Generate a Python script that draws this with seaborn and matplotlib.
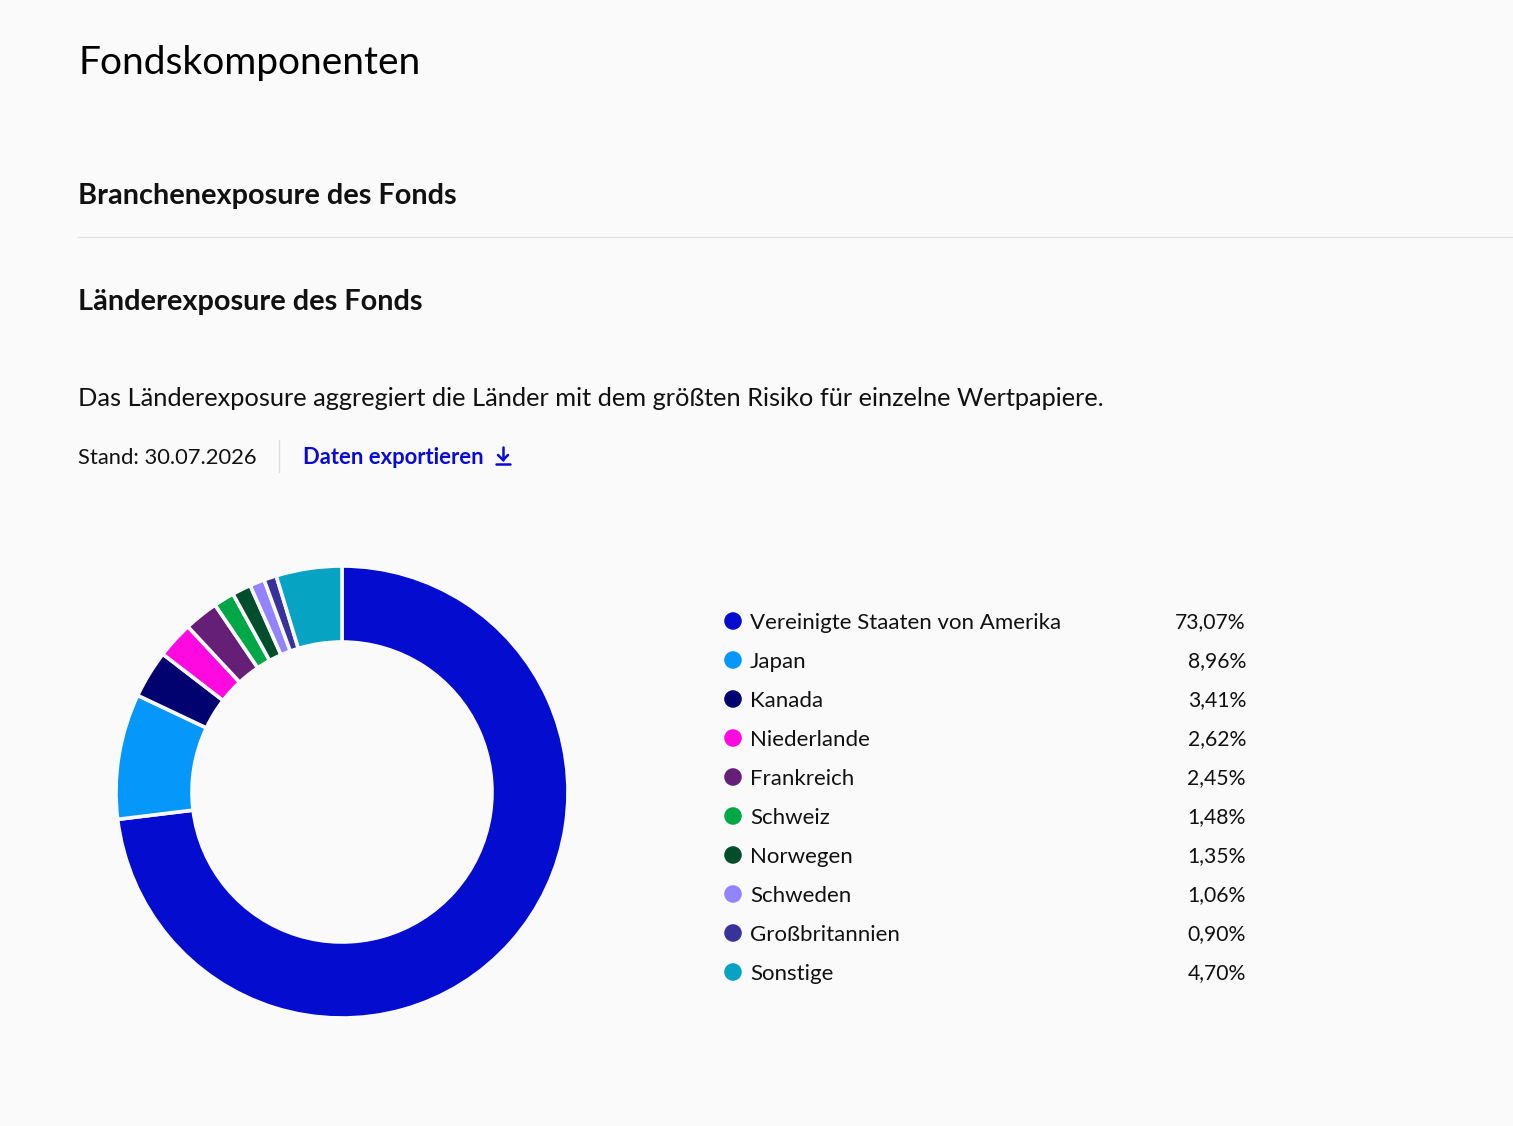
import matplotlib
matplotlib.use("Agg")

import matplotlib.pyplot as plt
import seaborn as sns
import pandas as pd


COUNTRIES = [
    "Vereinigte Staaten von Amerika",
    "Japan",
    "Kanada",
    "Niederlande",
    "Frankreich",
    "Schweiz",
    "Norwegen",
    "Schweden",
    "Großbritannien",
    "Sonstige",
]
SHARES = [73.07, 8.96, 3.41, 2.62, 2.45, 1.48, 1.35, 1.06, 0.90, 4.70]
COLORS = [
    "#040dcf",
    "#0598fa",
    "#010170",
    "#fe0ae1",
    "#661f77",
    "#00a746",
    "#014d2c",
    "#9383fc",
    "#38329a",
    "#07a3c2",
]

TITLE = "Fondskomponenten"
SECTION_1 = "Branchenexposure des Fonds"
SECTION_2 = "Länderexposure des Fonds"
DESCRIPTION = "Das Länderexposure aggregiert die Länder mit dem größten Risiko für einzelne Wertpapiere."
STAND = "Stand: 30.07.2026"
EXPORT = "Daten exportieren"

BG = "#fafafa"
LINK = "#0a0ad2"
W, H = 1513, 1126


def px(x, y):
    # pixel coords (top-left origin) -> figure fraction
    return x / W, 1 - y / H


def line(fig, xs, ys, color, lw):
    fig.add_artist(plt.Line2D([x / W for x in xs], [1 - y / H for y in ys],
                              color=color, lw=lw, solid_capstyle="round"))


def main():
    sns.set_theme(style="white")
    plt.rcParams["font.family"] = ["Lato", "DejaVu Sans"]

    df = pd.DataFrame({"country": COUNTRIES, "share": SHARES, "color": COLORS})
    df["row"] = range(len(df))
    df["label"] = df["share"].map(lambda v: f"{v:.2f}".replace(".", ",") + "%")

    fig = plt.figure(figsize=(W / 100, H / 100), dpi=100, facecolor=BG)

    # header texts
    fig.text(*px(78, 63), TITLE, fontsize=28, color="#000000", va="center")
    fig.text(*px(78, 196), SECTION_1, fontsize=20.8, fontweight="bold",
             color="#111111", va="center")
    line(fig, [78, W], [237, 237], "#e4e4e4", 1)
    fig.text(*px(78, 302), SECTION_2, fontsize=20.8, fontweight="bold",
             color="#111111", va="center")
    fig.text(*px(78, 399), DESCRIPTION, fontsize=18.3, color="#111111", va="center")
    fig.text(*px(78, 458), STAND, fontsize=15.8, color="#111111", va="center")
    line(fig, [279, 279], [440, 472], "#dddddd", 1)
    fig.text(*px(303, 458), EXPORT, fontsize=15.8, color=LINK,
             fontweight="bold", va="center")
    # download icon
    line(fig, [503, 503], [447, 460], LINK, 1.8)
    line(fig, [498, 503, 508], [455, 460, 455], LINK, 1.8)
    line(fig, [496, 510], [464, 464], LINK, 1.8)

    # donut
    cx, cy, r = 342, 792, 226
    ax = fig.add_axes([(cx - r) / W, (H - cy - r) / H, 2 * r / W, 2 * r / H])
    ax.set_facecolor(BG)
    ax.pie(
        df["share"],
        colors=df["color"],
        startangle=90,
        counterclock=False,
        radius=1,
        wedgeprops=dict(width=76 / 226, edgecolor=BG, linewidth=2.6, joinstyle="round"),
    )
    ax.set_xlim(-1, 1)
    ax.set_ylim(-1, 1)
    ax.set_aspect("equal")
    ax.axis("off")

    # legend
    top, bottom = 601.5, 991.5
    lax = fig.add_axes([700 / W, (H - bottom) / H, 560 / W, (bottom - top) / H])
    lax.set_facecolor(BG)
    lax.set_xlim(700, 1260)
    lax.set_ylim(len(df) - 0.5, -0.5)
    sns.scatterplot(
        data=df.assign(x=733),
        x="x",
        y="row",
        hue="country",
        palette=dict(zip(df["country"], df["color"])),
        s=160,
        linewidth=0,
        legend=False,
        ax=lax,
    )
    for _, row in df.iterrows():
        lax.text(750, row["row"] + 0.04, row["country"], fontsize=16, va="center",
                 ha="left", color="#111111")
        lax.text(1246, row["row"] + 0.04, row["label"], fontsize=15.2, va="center",
                 ha="right", color="#111111")
    lax.axis("off")

    fig.savefig("out.png", dpi=100, facecolor=BG)
    plt.close(fig)


if __name__ == "__main__":
    main()
